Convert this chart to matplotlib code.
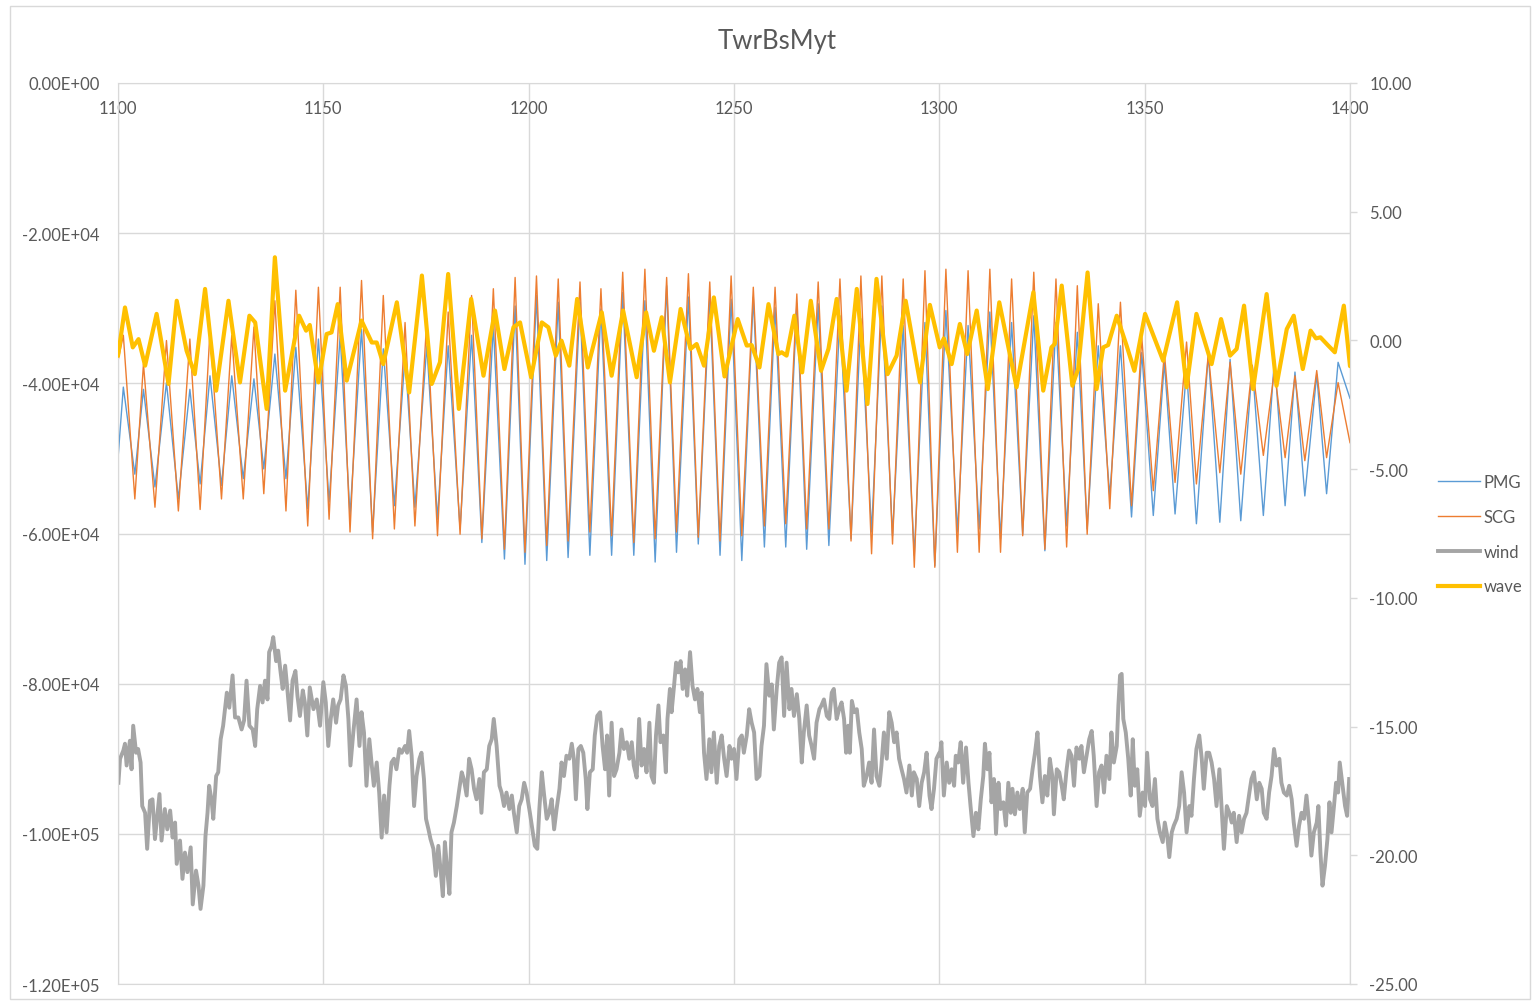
import matplotlib.pyplot as plt
from matplotlib.patches import Rectangle
from matplotlib.lines import Line2D
from matplotlib.ticker import FuncFormatter, MultipleLocator
import numpy as np

plt.rcParams['font.family'] = ['Lato', 'DejaVu Sans']

# TwrBsMyt, 1100-1400 s.  PMG / SCG given at the peaks and troughs of each cycle (x1e3)
cyc_t = [
    1100.0, 1101.3, 1104.1, 1106.2, 1109.0, 1111.8, 1114.7, 1117.5, 1120.0, 1122.4,
    1125.2, 1127.7, 1130.5, 1133.1, 1135.5, 1138.2, 1140.9, 1143.3, 1146.2, 1148.8,
    1151.4, 1154.1, 1156.5, 1159.3, 1162.0, 1164.6, 1167.3, 1169.9, 1172.3, 1175.2,
    1177.8, 1180.4, 1183.3, 1186.1, 1188.6, 1191.4, 1194.1, 1196.7,
    1199.1, 1201.9, 1204.4, 1207.2, 1209.6, 1212.5, 1214.9, 1217.6, 1220.2, 1222.9,
    1225.6, 1228.3, 1230.8, 1233.6, 1236.0, 1238.9, 1241.3, 1244.1, 1246.6,
    1249.3, 1251.9, 1254.7, 1257.4, 1260.0, 1262.6, 1265.3, 1267.7, 1270.5, 1273.1,
    1275.8, 1278.5, 1280.9, 1283.5, 1286.0, 1288.6, 1291.2, 1293.9, 1296.5,
    1298.9, 1301.6, 1304.4, 1307.0, 1309.7, 1312.3, 1314.9, 1317.6, 1320.3, 1323.0,
    1325.7, 1328.4, 1331.0, 1333.6, 1336.0, 1338.7, 1341.5, 1344.1, 1346.8,
    1349.3, 1352.1, 1354.8, 1357.4, 1360.2, 1362.6, 1365.5, 1368.3, 1370.8, 1373.4,
    1376.2, 1378.9, 1381.6, 1384.2, 1386.6, 1389.0, 1391.9, 1394.3, 1397.1, 1400.0]

scg_k = [
    -37.0, -33.6, -55.4, -37.4, -56.5, -34.3, -57.0, -34.1, -56.8, -33.0,
    -55.4, -33.6, -55.4, -32.5, -54.7, -29.0, -57.0, -27.6, -59.0, -27.2,
    -58.1, -27.2, -59.8, -26.3, -60.7, -28.3, -59.4, -31.9, -59.0, -31.4,
    -60.3, -30.5, -60.1, -28.3, -60.7, -27.4, -62.1, -25.9,
    -62.5, -25.7, -61.6, -26.1, -61.0, -26.5, -59.8, -27.4, -60.3, -25.2,
    -61.2, -24.8, -60.7, -25.9, -59.8, -25.4, -60.5, -26.5, -61.0,
    -25.7, -60.3, -27.2, -59.0, -27.2, -58.7, -28.1, -59.4, -26.5, -59.4,
    -26.1, -61.0, -25.7, -62.7, -25.7, -61.4, -26.1, -64.5, -25.0,
    -64.5, -24.8, -62.5, -25.0, -62.5, -24.8, -62.5, -26.1, -60.3, -25.2,
    -62.1, -26.1, -61.8, -27.0, -60.1, -29.4, -56.7, -29.2, -56.3,
    -33.9, -54.3, -35.9, -53.2, -34.5, -53.4, -36.1, -51.9, -37.2, -52.1,
    -37.6, -49.6, -38.3, -49.9, -39.0, -50.3, -38.3, -49.9, -39.9, -47.9]

pmg_k = [
    -50.0, -40.5, -52.1, -40.8, -53.8, -39.9, -55.4, -40.8, -53.4, -39.0,
    -53.6, -39.0, -52.7, -39.4, -51.4, -36.1, -52.7, -35.2, -56.7, -34.1,
    -55.8, -33.6, -57.6, -32.8, -59.8, -35.4, -56.3, -36.3, -56.5, -35.0,
    -58.1, -35.0, -59.4, -33.6, -61.2, -32.3, -63.4, -29.7,
    -64.1, -28.3, -63.6, -29.2, -63.2, -29.2, -62.9, -30.1, -62.9, -27.9,
    -62.9, -29.0, -63.8, -27.0, -62.5, -28.5, -61.4, -28.5, -62.9,
    -28.8, -63.6, -28.5, -61.8, -29.9, -61.8, -29.4, -62.1, -29.4, -61.6,
    -31.0, -60.7, -31.4, -59.8, -29.7, -60.3, -32.3, -62.9, -31.9,
    -64.3, -30.3, -59.8, -32.3, -59.4, -30.5, -60.7, -31.9, -60.1, -31.0,
    -62.3, -31.9, -59.0, -33.2, -59.4, -35.0, -55.0, -35.0, -57.8,
    -35.9, -57.6, -37.2, -57.4, -38.1, -58.7, -36.1, -58.5, -36.8, -58.3,
    -37.6, -57.6, -36.8, -56.3, -38.5, -55.0, -38.8, -54.7, -37.2, -42.0]

# wave only case, secondary axis
wave_t = [
    1100.0, 1101.7, 1103.6, 1105.0, 1106.6, 1109.4, 1112.3, 1114.3, 1116.7, 1118.7,
    1121.2, 1123.9, 1126.9, 1129.7, 1132.0, 1133.4, 1136.2, 1138.2, 1140.7, 1144.1,
    1145.8, 1146.7, 1148.8, 1150.8, 1152.0, 1153.5, 1155.7, 1159.3, 1161.8, 1163.0,
    1164.6, 1167.9, 1170.9, 1174.0, 1176.4, 1178.4, 1180.4, 1183.0, 1186.0, 1189.0,
    1191.8, 1194.1, 1196.3, 1197.9, 1200.6, 1203.2, 1204.8, 1206.6, 1208.0, 1209.9,
    1211.8, 1214.4, 1217.8, 1220.2, 1223.0, 1226.3, 1228.6, 1230.5, 1232.4, 1234.4,
    1237.0, 1239.4, 1240.9, 1242.7, 1245.1, 1247.7, 1250.9, 1253.1, 1254.3, 1256.2,
    1258.4, 1260.8, 1261.6, 1262.8, 1264.7, 1266.6, 1268.7, 1271.2, 1273.0, 1275.0,
    1277.4, 1279.9, 1282.5, 1284.7, 1287.4, 1289.6, 1291.8, 1295.3, 1297.7, 1300.1,
    1301.1, 1303.0, 1305.0, 1306.8, 1309.1, 1311.8, 1314.6, 1318.8, 1322.9, 1325.3,
    1327.3, 1328.1, 1329.8, 1332.4, 1333.8, 1336.1, 1338.3, 1339.9, 1341.1, 1343.2,
    1345.6, 1347.5, 1350.1, 1354.5, 1357.9, 1360.2, 1362.6, 1366.3, 1368.6, 1370.8,
    1372.4, 1374.2, 1376.4, 1379.7, 1382.1, 1384.6, 1386.3, 1388.5, 1390.4, 1391.7,
    1392.8, 1394.7, 1396.3, 1398.5, 1400.0]
wave = [
    -0.60, 1.28, -0.27, 0.05, -0.98, 1.03, -1.69, 1.54, -0.40, -1.31,
    2.00, -1.95, 1.54, -1.63, 0.96, 0.70, -2.66, 3.23, -1.95, 0.96,
    0.38, 0.60, -1.63, 0.25, 0.31, 1.41, -1.56, 0.77, -0.08, -0.08,
    -0.92, 1.48, -2.02, 2.52, -1.69, -0.85, 2.58, -2.66, 1.61, -1.37,
    1.16, -1.11, 0.51, 0.70, -1.43, 0.70, 0.51, -0.59, -0.01, -0.98,
    1.61, -1.05, 1.09, -1.37, 1.16, -1.43, 1.09, -0.40, 0.90, -1.63,
    1.22, -0.33, -0.14, -0.98, 1.67, -1.40, 0.83, -0.20, -0.18, -1.05,
    1.41, -0.53, -0.46, -0.59, 0.96, -1.24, 1.54, -1.18, -0.33, 1.61,
    -1.95, 2.00, -2.47, 2.39, -1.31, -0.59, 1.54, -1.63, 1.38, -0.27,
    0.08, -0.92, 0.64, -0.53, 1.16, -1.89, 1.48, -1.82, 1.87, -1.95,
    -0.27, -0.14, 2.13, -1.76, -1.11, 2.64, -1.89, -0.27, -0.18, 0.96,
    -0.20, -1.18, 1.03, -0.79, 1.48, -1.82, 1.03, -0.92, 0.83, -0.59,
    -0.33, 1.35, -1.89, 1.80, -1.76, 0.44, 0.96, -1.11, 0.38, 0.08,
    0.12, -0.20, -0.46, 1.35, -1.00]

# wind only case (x1e3)
wind_t = [
    1100.1, 1100.5, 1101.3, 1101.7, 1102.1, 1102.5, 1102.9, 1103.3, 1103.7, 1104.4,
    1104.9, 1105.5, 1105.9, 1106.6, 1107.1, 1107.8, 1108.4, 1109.0, 1110.1, 1110.6,
    1111.4, 1112.0, 1112.7, 1113.3, 1113.9, 1114.3, 1115.1, 1115.7, 1116.3, 1116.9,
    1117.7, 1118.2, 1119.0, 1119.6, 1120.1, 1120.8, 1121.3, 1121.8, 1122.2, 1122.8,
    1123.2, 1123.9, 1124.4, 1125.0, 1125.6, 1126.5, 1127.1, 1127.9, 1128.5, 1129.3,
    1130.1, 1130.7, 1131.3, 1132.0, 1132.8, 1133.4, 1133.9, 1134.6, 1135.2, 1135.8,
    1136.4, 1136.8, 1137.4, 1137.8, 1138.5, 1139.0, 1139.6, 1140.1, 1140.7, 1141.2,
    1141.9, 1142.5, 1143.2, 1143.7, 1144.3, 1145.0, 1145.5, 1146.1, 1146.7, 1147.6,
    1148.4, 1149.2, 1150.0, 1150.6, 1151.2, 1151.8, 1152.4, 1153.1, 1153.6, 1154.2,
    1154.9, 1155.5, 1156.1, 1156.6, 1157.3, 1158.1, 1158.8, 1159.3, 1159.9, 1160.5,
    1161.2, 1161.8, 1162.3, 1163.0, 1163.6, 1164.2, 1164.8, 1165.4, 1166.1, 1166.6,
    1167.2, 1167.8, 1168.5, 1169.1, 1169.9, 1170.4, 1170.9, 1171.5, 1172.1, 1172.7,
    1173.4, 1173.9, 1174.5, 1175.0, 1175.6, 1176.1, 1176.8, 1177.4, 1178.0, 1178.6,
    1179.1, 1179.6, 1180.2, 1180.7, 1181.2, 1181.8, 1182.5, 1183.1, 1183.7, 1184.2,
    1184.9, 1185.5, 1186.1, 1186.7, 1187.3, 1188.0, 1188.5, 1189.1, 1189.8, 1190.4,
    1191.0, 1191.5, 1192.2, 1192.9, 1193.4, 1194.0, 1194.6, 1195.3, 1195.9, 1196.4,
    1197.1, 1197.7, 1198.3, 1198.9, 1199.5,
    1200.3, 1201.0, 1201.5, 1202.1, 1202.6, 1203.2, 1203.7, 1204.4, 1205.0, 1205.6,
    1206.2, 1206.8, 1207.5, 1208.0, 1208.6, 1209.2, 1209.9, 1210.5, 1211.0, 1211.5,
    1212.1, 1212.7, 1213.3, 1213.9, 1214.3, 1214.9, 1215.6, 1216.1, 1216.7, 1217.4,
    1218.0, 1218.6, 1219.1, 1219.6, 1220.2, 1220.8, 1221.4, 1222.1, 1222.6, 1223.2,
    1223.9, 1224.5, 1225.1, 1225.6, 1226.3, 1226.9, 1227.5, 1228.1, 1228.7, 1229.4,
    1229.9, 1230.5, 1231.0, 1231.6, 1232.1, 1232.8, 1233.4, 1233.8, 1234.4, 1234.8,
    1235.4, 1235.9, 1236.4, 1237.0, 1237.5, 1238.1, 1238.6, 1239.3, 1239.9, 1240.5,
    1241.1, 1241.7, 1242.1, 1242.7, 1243.3, 1244.0, 1244.5, 1245.1, 1245.8, 1246.4,
    1247.0, 1247.6, 1248.2, 1248.9, 1249.4, 1250.0, 1250.6, 1251.3, 1251.9, 1252.4,
    1253.1, 1253.7, 1254.3, 1254.9, 1255.5, 1256.2, 1256.7, 1257.3, 1257.9, 1258.6,
    1259.2, 1259.7, 1260.4, 1261.0, 1261.6, 1262.2, 1262.8, 1263.5, 1264.0, 1264.6,
    1265.3, 1265.9, 1266.5, 1267.0, 1267.7, 1268.3, 1268.9, 1269.5, 1270.1, 1270.8,
    1271.3, 1271.9, 1272.6, 1273.2, 1273.8, 1274.3, 1275.0, 1275.6, 1276.2, 1276.8,
    1277.3, 1277.8, 1278.2, 1278.7, 1279.3, 1279.9, 1280.5, 1281.1, 1281.6, 1282.3,
    1282.9, 1283.5, 1284.1, 1284.7, 1285.4, 1285.9, 1286.5, 1287.2, 1287.8, 1288.4,
    1289.0, 1289.6, 1290.2, 1290.8, 1291.4, 1292.0, 1292.7, 1293.3, 1293.8, 1294.5,
    1295.1, 1295.7, 1296.3, 1296.9, 1297.6, 1298.1, 1298.7, 1299.3, 1300.0,
    1300.1, 1300.5, 1301.1, 1301.8, 1302.4, 1303.0, 1303.6, 1304.0, 1304.6, 1305.2,
    1305.8, 1306.5, 1307.1, 1307.6, 1308.3, 1308.9, 1309.5, 1310.1, 1310.7, 1311.1,
    1311.7, 1312.2, 1312.7, 1313.3, 1313.8, 1314.4, 1314.9, 1315.6, 1316.2, 1316.8,
    1317.4, 1317.8, 1318.4, 1319.0, 1319.6, 1320.3, 1320.8, 1321.4, 1322.1, 1322.7,
    1323.3, 1323.9, 1324.5, 1325.1, 1325.7, 1326.3, 1326.9, 1327.5, 1327.9, 1328.6,
    1329.2, 1329.8, 1330.3, 1331.0, 1331.6, 1332.2, 1332.8, 1333.4, 1334.1, 1334.6,
    1335.2, 1335.9, 1336.5, 1337.1, 1337.6, 1338.3, 1338.9, 1339.5, 1340.1, 1340.7,
    1341.4, 1341.9, 1342.5, 1343.2, 1343.6, 1344.0, 1344.4, 1344.8, 1345.4, 1346.0,
    1346.6, 1347.1, 1347.6, 1348.2, 1348.8, 1349.5, 1350.1, 1350.6, 1351.3, 1351.9,
    1352.5, 1353.1, 1353.7, 1354.4, 1354.9, 1355.5, 1356.0, 1356.6, 1357.1, 1357.8,
    1358.4, 1359.0, 1359.6, 1360.2, 1360.9, 1361.4, 1362.0, 1362.6, 1363.3, 1363.9,
    1364.4, 1365.1, 1365.7, 1366.3, 1366.9, 1367.5, 1368.2, 1368.7, 1369.3, 1370.0,
    1370.6, 1371.2, 1371.7, 1372.4, 1373.0, 1373.6, 1374.2, 1374.8, 1375.5, 1376.0,
    1376.6, 1377.3, 1377.9, 1378.5, 1379.0, 1379.7, 1380.3, 1380.9, 1381.5, 1382.1,
    1382.8, 1383.3, 1383.9, 1384.6, 1385.2, 1385.8, 1386.3, 1387.0, 1387.6, 1388.2,
    1388.8, 1389.4, 1390.1, 1390.6, 1391.2, 1391.9, 1392.3, 1392.8, 1393.3, 1393.9,
    1394.5, 1395.0, 1395.5, 1396.1, 1396.6, 1397.1, 1397.5, 1398.2, 1398.8, 1399.3,
    1399.8]
wind_k = [
    -93.2, -90.0, -88.9, -88.0, -90.9, -89.2, -87.6, -91.4, -85.6, -89.2,
    -88.7, -90.5, -96.3, -97.2, -102.0, -95.6, -95.4, -100.7, -94.7, -100.9,
    -96.7, -99.4, -96.9, -100.5, -98.5, -104.0, -100.9, -106.0, -102.5, -105.1,
    -101.8, -109.4, -104.9, -106.9, -110.0, -106.9, -100.3, -97.2, -93.6, -95.6,
    -98.0, -92.3, -91.8, -87.4, -85.6, -81.2, -83.2, -78.9, -84.5, -84.5,
    -86.1, -84.9, -79.6, -85.6, -86.1, -88.3, -83.4, -80.3, -82.5, -79.6,
    -82.1, -75.8, -75.0, -73.8, -77.0, -75.6, -78.5, -80.7, -77.6, -80.5,
    -84.9, -79.6, -78.3, -81.6, -84.3, -80.9, -82.5, -86.9, -80.5, -83.4,
    -82.1, -85.6, -79.8, -82.5, -88.3, -84.7, -82.1, -85.2, -82.9, -82.1,
    -78.9, -80.3, -84.7, -90.9, -86.5, -82.1, -88.3, -83.8, -86.5, -93.6,
    -87.4, -90.9, -93.6, -90.5, -94.5, -100.5, -94.9, -99.8, -93.6, -90.5,
    -90.0, -91.4, -88.7, -89.2, -88.3, -89.2, -86.3, -89.6, -96.3, -92.3,
    -90.0, -89.2, -92.7, -98.0, -99.4, -100.7, -102.0, -105.6, -101.6, -105.1,
    -108.3, -101.1, -105.1, -108.0, -99.8, -98.5, -96.3, -94.0, -91.8, -92.7,
    -94.9, -90.0, -91.4, -94.0, -95.4, -92.7, -97.2, -91.8, -91.4, -88.3,
    -87.4, -84.7, -88.3, -93.6, -94.5, -96.3, -94.5, -96.7, -94.9, -97.2,
    -99.8, -96.3, -95.4, -93.2, -94.5,
    -97.2, -99.8, -101.6, -102.0, -96.7, -91.8, -94.5, -98.0, -97.2, -95.4,
    -99.4, -96.7, -94.0, -90.5, -92.3, -89.6, -90.0, -88.0, -90.0, -95.4,
    -88.7, -88.3, -89.2, -92.7, -96.7, -91.8, -91.4, -86.9, -84.3, -83.8,
    -88.3, -91.4, -86.9, -94.9, -85.2, -92.3, -91.4, -89.2, -86.1, -88.7,
    -87.8, -90.0, -87.8, -90.9, -92.5, -84.7, -90.9, -88.7, -91.8, -85.2,
    -92.3, -93.2, -86.9, -82.9, -87.8, -86.9, -91.8, -84.7, -80.7, -83.8,
    -80.3, -77.2, -78.5, -77.0, -80.7, -78.1, -81.6, -75.8, -80.3, -82.1,
    -80.7, -83.8, -81.2, -89.2, -92.7, -87.4, -91.8, -86.5, -93.2, -88.3,
    -86.9, -90.0, -92.3, -88.3, -90.0, -88.7, -92.7, -87.4, -86.9, -89.2,
    -86.9, -83.4, -85.2, -86.5, -92.7, -92.3, -88.3, -85.6, -77.4, -81.6,
    -80.1, -86.1, -80.7, -77.2, -76.5, -84.3, -77.2, -83.4, -80.7, -84.3,
    -81.4, -84.7, -90.5, -86.5, -82.9, -86.9, -88.3, -90.0, -85.2, -83.4,
    -82.9, -82.1, -84.3, -84.7, -81.2, -80.7, -84.7, -83.4, -82.5, -84.7,
    -89.2, -85.6, -89.2, -82.3, -83.8, -83.4, -86.5, -88.7, -93.6, -92.3,
    -90.5, -93.2, -86.1, -92.3, -93.6, -90.9, -86.5, -90.0, -83.8, -85.2,
    -87.8, -86.5, -90.0, -91.4, -92.7, -94.5, -90.9, -94.9, -91.8, -92.7,
    -96.3, -93.2, -91.8, -89.2, -94.9, -96.7, -94.0, -90.0, -89.2,
    -89.6, -87.8, -94.9, -90.5, -93.2, -91.4, -93.6, -89.6, -90.5, -87.8,
    -93.2, -88.5, -93.2, -96.3, -100.3, -97.2, -99.4, -95.4, -92.3, -88.0,
    -91.4, -89.2, -95.8, -92.7, -100.0, -93.2, -96.7, -95.8, -98.9, -93.2,
    -97.2, -94.0, -97.4, -94.5, -96.7, -94.0, -99.8, -94.5, -94.0, -91.4,
    -89.2, -86.5, -92.3, -95.8, -92.3, -94.9, -90.0, -92.3, -97.4, -91.4,
    -91.8, -93.6, -95.4, -91.4, -88.9, -89.6, -93.6, -88.5, -90.0, -88.3,
    -91.8, -89.4, -87.4, -86.3, -89.6, -96.3, -91.8, -90.9, -94.5, -89.6,
    -92.7, -86.5, -90.5, -88.3, -82.9, -78.9, -78.7, -84.7, -86.5, -90.0,
    -94.9, -87.4, -93.6, -91.4, -97.6, -94.5, -96.3, -89.2, -95.4, -96.3,
    -92.7, -98.0, -99.8, -101.1, -98.5, -100.3, -103.1, -99.8, -98.9, -98.0,
    -96.3, -91.8, -94.5, -99.8, -96.3, -97.6, -92.7, -88.7, -86.9, -90.0,
    -94.0, -89.2, -89.2, -90.5, -92.7, -96.3, -91.4, -96.3, -102.0, -96.3,
    -97.2, -98.5, -97.2, -101.1, -97.6, -99.8, -98.0, -97.2, -94.5, -92.7,
    -91.8, -95.4, -93.2, -94.0, -97.2, -98.0, -94.5, -92.3, -88.7, -90.9,
    -90.0, -93.2, -94.5, -94.9, -93.6, -95.4, -98.5, -101.6, -98.9, -97.2,
    -98.0, -94.9, -98.9, -102.9, -99.8, -98.5, -96.3, -102.5, -106.9, -104.3,
    -100.7, -95.8, -99.8, -96.3, -93.2, -94.5, -90.5, -93.6, -96.3, -97.6,
    -92.7]

legend_labels = ['PMG', 'SCG', 'wind', 'wave']
colors = {'PMG': '#5b9bd5', 'SCG': '#ed7d31', 'wind': '#a5a5a5', 'wave': '#ffc000'}
text_c = '#595959'
grid_c = '#d9d9d9'

W, H = 1533, 1004
fig = plt.figure(figsize=(W / 100, H / 100), dpi=100)
ax = fig.add_axes([118 / W, 1 - 985 / H, (1350 - 118) / W, (985 - 84) / H])
ax2 = ax.twinx()

ax.plot(cyc_t, np.array(pmg_k) * 1e3, color=colors['PMG'], lw=1.0, label='PMG')
ax.plot(cyc_t, np.array(scg_k) * 1e3, color=colors['SCG'], lw=1.0, label='SCG')
ax.plot(wind_t, np.array(wind_k) * 1e3, color=colors['wind'], lw=2.8, label='wind',
        solid_joinstyle='round')
ax2.plot(wave_t, wave, color=colors['wave'], lw=3.0, label='wave',
         solid_joinstyle='round', solid_capstyle='round')

# primary axis
ax.set_xlim(1100, 1400)
ax.set_ylim(-1.2e5, 0)
ax.xaxis.set_major_locator(MultipleLocator(50))
ax.yaxis.set_major_locator(MultipleLocator(2e4))
ax.yaxis.set_major_formatter(FuncFormatter(lambda v, p: f"{v:.2E}"))
ax.grid(True, color=grid_c, lw=1.0)
ax.set_axisbelow(True)
ax.xaxis.tick_top()
ax.tick_params(axis='x', length=0, pad=-24, labelsize=12, labelcolor=text_c)
ax.tick_params(axis='y', length=0, pad=13, labelsize=12, labelcolor=text_c)
for s in ax.spines.values():
    s.set_color(grid_c)

# secondary axis
ax2.set_ylim(-25, 10)
ax2.yaxis.set_major_locator(MultipleLocator(5))
ax2.yaxis.set_major_formatter(FuncFormatter(lambda v, p: f"{v:.2f}"))
ax2.tick_params(axis='y', length=5, width=1, color=grid_c, pad=9, labelsize=12,
                labelcolor=text_c)
for s in ax2.spines.values():
    s.set_visible(False)
ax2.spines['right'].set_visible(True)
ax2.spines['right'].set_color(grid_c)

handles = [Line2D([], [], color=colors['PMG'], lw=1.0),
           Line2D([], [], color=colors['SCG'], lw=1.0),
           Line2D([], [], color=colors['wind'], lw=2.8),
           Line2D([], [], color=colors['wave'], lw=3.0)]
fig.legend(handles, legend_labels, loc='upper left',
           bbox_to_anchor=(1438 / W, 1 - 475 / H), frameon=False, fontsize=12,
           handlelength=2.5, handletextpad=0.25, labelspacing=1.13, borderpad=0,
           borderaxespad=0, labelcolor=text_c)

fig.text(777 / W, 1 - 42 / H, 'TwrBsMyt', ha='center', va='center', fontsize=18.5,
         color=text_c)
fig.patches.append(Rectangle((10 / W, 4 / H), 1520 / W, (1000 - 7) / H,
                             transform=fig.transFigure, fill=False,
                             edgecolor=grid_c, lw=1.0))

fig.savefig('out.png', dpi=100)
